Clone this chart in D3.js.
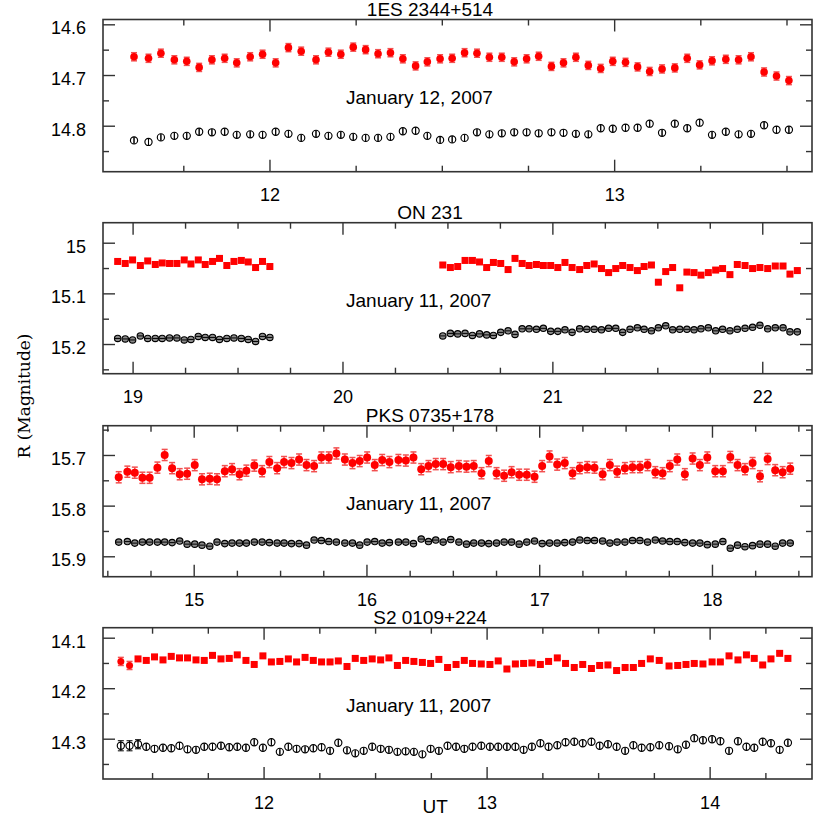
<!DOCTYPE html>
<html><head><meta charset="utf-8">
<script src="https://cdn.jsdelivr.net/npm/d3@7"></script>
<style>body{margin:0;background:#fff}svg{display:block}</style>
</head><body>
<svg id="chart" width="830" height="830"></svg>
<script>
// ---------------- data ----------------
const titles = ["1ES 2344+514", "ON 231", "PKS 0735+178", "S2 0109+224"];
const dates = ["January 12, 2007", "January 11, 2007", "January 11, 2007", "January 11, 2007"];
const xTickLabels = [[12, 13], [19, 20, 21, 22], [15, 16, 17, 18], [12, 13, 14]];
const yTickLabels = [[14.6, 14.7, 14.8], [15.0, 15.1, 15.2], [15.7, 15.8, 15.9], [14.1, 14.2, 14.3]];
const xLabel = "UT";
const yLabel = "R (Magnitude)";

// 1ES 2344+514
const t1 = [11.607,11.649,11.685,11.724,11.760,11.796,11.833,11.870,11.905,11.944,11.980,12.018,12.055,12.092,12.135,12.171,12.207,12.243,12.279,12.315,12.351,12.387,12.424,12.458,12.495,12.530,12.566,12.602,12.638,12.674,12.710,12.746,12.781,12.818,12.853,12.889,12.925,12.961,12.996,13.033,13.068,13.103,13.139,13.176,13.212,13.248,13.284,13.324,13.361,13.397,13.435,13.471,13.507];
const red1 = [14.664,14.667,14.657,14.670,14.673,14.685,14.670,14.667,14.676,14.664,14.659,14.676,14.646,14.653,14.670,14.655,14.659,14.645,14.650,14.658,14.656,14.668,14.682,14.674,14.668,14.667,14.656,14.657,14.665,14.665,14.674,14.668,14.663,14.683,14.676,14.665,14.681,14.687,14.673,14.675,14.684,14.693,14.688,14.686,14.667,14.680,14.672,14.669,14.670,14.664,14.694,14.702,14.711];
const blk1 = [14.829,14.832,14.823,14.820,14.820,14.812,14.813,14.812,14.818,14.817,14.818,14.812,14.816,14.824,14.816,14.820,14.818,14.822,14.824,14.824,14.822,14.811,14.810,14.820,14.828,14.827,14.824,14.813,14.817,14.815,14.813,14.813,14.815,14.813,14.814,14.816,14.817,14.805,14.806,14.804,14.804,14.796,14.814,14.796,14.805,14.794,14.818,14.812,14.817,14.816,14.799,14.808,14.808];

// ON 231
const t2 = [18.929,18.965,19.000,19.037,19.072,19.108,19.141,19.176,19.211,19.246,19.278,19.313,19.346,19.381,19.414,19.449,19.483,19.518,19.551,19.586,19.619,19.654,
  20.478,20.514,20.549,20.584,20.619,20.653,20.687,20.719,20.754,20.789,20.822,20.856,20.889,20.924,20.957,20.992,21.026,21.060,21.094,21.130,21.164,21.199,21.234,21.268,21.302,21.335,21.370,21.405,21.437,21.472,21.505,21.540,21.573,21.607,21.641,21.675,21.708,21.743,21.778,21.811,21.846,21.881,21.918,21.954,21.989,22.026,22.062,22.099,22.132,22.167];
const red2 = [15.037,15.041,15.034,15.045,15.036,15.043,15.040,15.041,15.041,15.034,15.042,15.034,15.043,15.037,15.031,15.045,15.037,15.035,15.038,15.049,15.037,15.047,
  15.044,15.049,15.047,15.035,15.035,15.038,15.049,15.039,15.041,15.053,15.031,15.041,15.045,15.043,15.045,15.045,15.049,15.039,15.049,15.053,15.045,15.042,15.051,15.059,15.051,15.045,15.049,15.055,15.047,15.044,15.078,15.057,15.049,15.089,15.058,15.059,15.064,15.059,15.054,15.051,15.063,15.043,15.045,15.051,15.049,15.051,15.046,15.046,15.062,15.055];
const blk2 = [15.189,15.190,15.192,15.184,15.189,15.189,15.189,15.188,15.188,15.192,15.191,15.185,15.187,15.187,15.191,15.189,15.188,15.189,15.191,15.195,15.185,15.187,
  15.184,15.179,15.180,15.179,15.183,15.180,15.182,15.183,15.177,15.174,15.181,15.170,15.170,15.171,15.169,15.175,15.175,15.172,15.177,15.170,15.171,15.171,15.172,15.169,15.169,15.177,15.171,15.168,15.171,15.174,15.168,15.164,15.172,15.171,15.171,15.172,15.170,15.168,15.174,15.171,15.174,15.171,15.169,15.167,15.163,15.170,15.168,15.168,15.176,15.176];

// PKS 0735+178
const t3 = [14.566,14.616,14.659,14.703,14.745,14.790,14.832,14.875,14.919,14.962,15.006,15.048,15.093,15.135,15.180,15.222,15.265,15.305,15.351,15.396,15.438,15.483,15.523,15.566,15.610,15.653,15.697,15.739,15.782,15.826,15.875,15.919,15.961,16.004,16.048,16.091,16.133,16.185,16.228,16.272,16.317,16.359,16.401,16.444,16.488,16.535,16.579,16.621,16.666,16.708,16.753,16.797,16.840,16.884,16.928,16.973,17.017,17.060,17.104,17.148,17.193,17.235,17.278,17.320,17.367,17.409,17.451,17.496,17.540,17.583,17.627,17.672,17.714,17.756,17.799,17.843,17.888,17.930,17.973,18.019,18.063,18.106,18.148,18.191,18.235,18.278,18.322,18.366,18.409,18.453];
const red3 = [15.744,15.733,15.735,15.745,15.745,15.725,15.700,15.726,15.738,15.737,15.720,15.748,15.747,15.748,15.732,15.728,15.738,15.731,15.721,15.732,15.714,15.726,15.714,15.716,15.709,15.720,15.722,15.705,15.705,15.697,15.709,15.716,15.712,15.705,15.720,15.710,15.714,15.710,15.711,15.705,15.728,15.722,15.718,15.718,15.724,15.722,15.723,15.722,15.736,15.712,15.736,15.741,15.734,15.739,15.739,15.743,15.722,15.703,15.719,15.716,15.736,15.726,15.724,15.725,15.738,15.720,15.733,15.726,15.724,15.724,15.720,15.734,15.736,15.722,15.709,15.738,15.707,15.720,15.705,15.732,15.732,15.704,15.720,15.728,15.716,15.742,15.708,15.730,15.734,15.727];
const blk3 = [15.872,15.871,15.874,15.872,15.872,15.872,15.872,15.873,15.870,15.876,15.876,15.878,15.880,15.872,15.875,15.874,15.874,15.874,15.872,15.872,15.873,15.874,15.874,15.875,15.875,15.878,15.868,15.869,15.871,15.872,15.874,15.874,15.878,15.872,15.871,15.874,15.873,15.872,15.872,15.875,15.866,15.871,15.868,15.872,15.867,15.872,15.876,15.874,15.874,15.875,15.874,15.872,15.872,15.876,15.872,15.870,15.875,15.874,15.874,15.873,15.872,15.868,15.869,15.869,15.870,15.874,15.872,15.872,15.869,15.869,15.872,15.868,15.870,15.871,15.871,15.873,15.874,15.874,15.877,15.876,15.871,15.884,15.878,15.881,15.879,15.876,15.876,15.880,15.874,15.874];

// S2 0109+224
const t4 = [11.360,11.399,11.437,11.474,11.511,11.549,11.586,11.623,11.659,11.697,11.734,11.771,11.809,11.846,11.882,11.921,11.958,11.997,12.035,12.073,12.111,12.148,12.186,12.223,12.260,12.298,12.335,12.374,12.411,12.449,12.487,12.525,12.562,12.600,12.637,12.674,12.712,12.749,12.786,12.825,12.863,12.900,12.937,12.976,13.015,13.052,13.091,13.129,13.166,13.203,13.241,13.278,13.317,13.354,13.393,13.431,13.470,13.507,13.544,13.583,13.621,13.658,13.695,13.734,13.774,13.818,13.857,13.894,13.931,13.970,14.011,14.048,14.087,14.127,14.165,14.200,14.238,14.275,14.314,14.351];
const red4 = [14.147,14.155,14.142,14.145,14.138,14.144,14.137,14.140,14.140,14.144,14.145,14.135,14.142,14.141,14.134,14.145,14.153,14.136,14.148,14.147,14.142,14.148,14.139,14.145,14.148,14.148,14.146,14.157,14.141,14.145,14.142,14.144,14.140,14.155,14.145,14.147,14.149,14.151,14.143,14.159,14.153,14.145,14.151,14.152,14.153,14.146,14.162,14.152,14.151,14.150,14.153,14.147,14.140,14.151,14.159,14.153,14.161,14.155,14.154,14.165,14.159,14.159,14.151,14.142,14.145,14.156,14.155,14.153,14.151,14.152,14.148,14.148,14.136,14.144,14.134,14.141,14.154,14.142,14.131,14.141];
const blk4 = [14.314,14.314,14.311,14.316,14.320,14.318,14.319,14.314,14.321,14.322,14.316,14.316,14.314,14.317,14.316,14.318,14.307,14.318,14.307,14.326,14.316,14.320,14.321,14.319,14.317,14.324,14.308,14.323,14.329,14.324,14.316,14.320,14.322,14.326,14.325,14.326,14.331,14.320,14.324,14.314,14.316,14.320,14.316,14.314,14.316,14.316,14.316,14.316,14.322,14.316,14.309,14.316,14.313,14.307,14.306,14.309,14.306,14.314,14.311,14.316,14.324,14.313,14.318,14.317,14.313,14.315,14.321,14.312,14.299,14.303,14.301,14.305,14.324,14.305,14.316,14.318,14.306,14.309,14.322,14.308];

// typical error bars (mag) for each panel
const redErr = [0.008, 0.004, 0.011, 0.003];
const blkErr = [0.006, 0.003, 0.003, 0.005];
const s2RedErrFirst = [0.008, 0.008];        // larger errors of the first S2 points
const s2BlkErrFirst = [0.010, 0.010, 0.009];

// ---------------- layout ----------------
const panels = [
  {t: t1, red: red1, blk: blk1, top: 19.5, bottom: 171.7, xd: [11.517, 13.574], yd: [14.5905, 14.8907], redShape: "circle", blkFill: "none", rr: 3.8, br: 3.6},
  {t: t2, red: red2, blk: blk2, top: 222.7, bottom: 373.7, xd: [18.859, 22.237], yd: [14.9605, 15.2586], redShape: "square", blkFill: "#8a8a8a", rr: 3.5, br: 3.2},
  {t: t3, red: red3, blk: blk3, top: 425.7, bottom: 576.7, xd: [14.475, 18.579], yd: [15.6422, 15.9403], redShape: "circle", blkFill: "#8a8a8a", rr: 4, br: 3.2},
  {t: t4, red: red4, blk: blk4, top: 627.7, bottom: 779, xd: [11.280, 14.459], yd: [14.0802, 14.3798], redShape: "square", blkFill: "none", rr: 3.5, br: 3.6}
];
const X0 = 103, X1 = 812;
const FRAME = "#333";
const svg = d3.select("#chart");

function range(a, b, step) {
  const out = [];
  for (let v = Math.ceil(a / step - 1e-9) * step; v <= b + 1e-9; v += step) out.push(+v.toFixed(4));
  return out;
}
function isMajor(v, step) { return Math.abs(v / step - Math.round(v / step)) < 1e-6; }

panels.forEach((p, pi) => {
  const g = svg.append("g");
  const x = d3.scaleLinear().domain(p.xd).range([X0, X1]);
  const y = d3.scaleLinear().domain(p.yd).range([p.top, p.bottom]);
  const H = p.bottom - p.top;

  const xMinor = range(p.xd[0], p.xd[1], 0.25).filter(v => !isMajor(v, 1));
  const yMinor = range(p.yd[0], p.yd[1], 0.05).filter(v => !isMajor(v, 0.1));
  const yMajor = yTickLabels[pi];
  const xMajor = xTickLabels[pi];
  const yfmt = v => String(+v.toFixed(1));

  function styleAxis(sel) {
    sel.select(".domain").remove();
    sel.selectAll(".tick line").attr("stroke", FRAME).attr("stroke-width", 1.4);
    sel.selectAll("text").attr("font-family", "Liberation Sans, Arial, sans-serif").attr("font-size", 18).attr("fill", "#000");
  }
  // bottom major (labeled)
  g.append("g").attr("transform", `translate(0,${p.bottom})`)
    .call(d3.axisBottom(x).tickValues(xMajor).tickFormat(d3.format("d")).tickSizeInner(-12).tickSizeOuter(0).tickPadding(17))
    .call(styleAxis);
  g.append("g").attr("transform", `translate(0,${p.bottom})`)
    .call(d3.axisBottom(x).tickValues(xMinor).tickFormat("").tickSizeInner(-6).tickSizeOuter(0))
    .call(styleAxis);
  // top mirrored
  g.append("g").attr("transform", `translate(0,${p.top})`)
    .call(d3.axisTop(x).tickValues(xMajor).tickFormat("").tickSizeInner(-12).tickSizeOuter(0))
    .call(styleAxis);
  g.append("g").attr("transform", `translate(0,${p.top})`)
    .call(d3.axisTop(x).tickValues(xMinor).tickFormat("").tickSizeInner(-6).tickSizeOuter(0))
    .call(styleAxis);
  // left
  const la = g.append("g").attr("transform", `translate(${X0},0)`)
    .call(d3.axisLeft(y).tickValues(yMajor).tickFormat(yfmt).tickSizeInner(-12).tickSizeOuter(0).tickPadding(17))
    .call(styleAxis);
  la.selectAll("text").attr("dy", "0.52em");
  g.append("g").attr("transform", `translate(${X0},0)`)
    .call(d3.axisLeft(y).tickValues(yMinor).tickFormat("").tickSizeInner(-6).tickSizeOuter(0))
    .call(styleAxis);
  // right
  g.append("g").attr("transform", `translate(${X1},0)`)
    .call(d3.axisRight(y).tickValues(yMajor).tickFormat("").tickSizeInner(-12).tickSizeOuter(0))
    .call(styleAxis);
  g.append("g").attr("transform", `translate(${X1},0)`)
    .call(d3.axisRight(y).tickValues(yMinor).tickFormat("").tickSizeInner(-6).tickSizeOuter(0))
    .call(styleAxis);

  // frame
  g.append("rect").attr("x", X0).attr("y", p.top).attr("width", X1 - X0).attr("height", H)
    .attr("fill", "none").attr("stroke", FRAME).attr("stroke-width", 1.6);

  // title & date
  g.append("text").attr("x", 430).attr("y", p.top - 4).attr("text-anchor", "middle")
    .attr("font-family", "Liberation Sans, Arial, sans-serif").attr("font-size", 19).text(titles[pi]);
  g.append("text").attr("x", 346).attr("y", p.top + 84.5)
    .attr("font-family", "Liberation Sans, Arial, sans-serif").attr("font-size", 19).text(dates[pi]);

  // data
  const redE = i => (pi === 3 && i < s2RedErrFirst.length) ? s2RedErrFirst[i] : redErr[pi];
  const blkE = i => (pi === 3 && i < s2BlkErrFirst.length) ? s2BlkErrFirst[i] : blkErr[pi];
  const redPts = p.t.map((t, i) => ({t, m: p.red[i], e: redE(i), i}));
  const blkPts = p.t.map((t, i) => ({t, m: p.blk[i], e: blkE(i), i}));

  function errbars(sel, pts, color, w, capFn) {
    const eg = sel.append("g").attr("stroke", color).attr("stroke-width", w);
    eg.selectAll("line.v").data(pts).join("line").attr("class", "v")
      .attr("x1", d => x(d.t)).attr("x2", d => x(d.t))
      .attr("y1", d => y(d.m - d.e)).attr("y2", d => y(d.m + d.e));
    eg.selectAll("line.c1").data(pts).join("line").attr("class", "c1")
      .attr("x1", d => x(d.t) - capFn(d)).attr("x2", d => x(d.t) + capFn(d))
      .attr("y1", d => y(d.m - d.e)).attr("y2", d => y(d.m - d.e));
    eg.selectAll("line.c2").data(pts).join("line").attr("class", "c2")
      .attr("x1", d => x(d.t) - capFn(d)).attr("x2", d => x(d.t) + capFn(d))
      .attr("y1", d => y(d.m + d.e)).attr("y2", d => y(d.m + d.e));
  }

  // black comparison star
  const blkCap = d => p.blkFill !== "none" ? 2.8 : (Math.abs(y(d.m + d.e) - y(d.m)) > p.br + 0.5 ? 3 : 0);
  errbars(g, blkPts, "#000", 1, blkCap);
  g.append("g").selectAll("circle").data(blkPts).join("circle")
    .attr("cx", d => x(d.t)).attr("cy", d => y(d.m)).attr("r", p.br)
    .attr("fill", p.blkFill).attr("stroke", "#000").attr("stroke-width", 1.15);
  if (p.blkFill === "none") {
    g.append("g").attr("stroke", "#000").attr("stroke-width", 1)
      .selectAll("line").data(blkPts).join("line")
      .attr("x1", d => x(d.t)).attr("x2", d => x(d.t))
      .attr("y1", d => y(d.m) - p.br).attr("y2", d => y(d.m) + p.br);
  } else {
    g.append("g").attr("stroke", "#000").attr("stroke-width", 1)
      .selectAll("line").data(blkPts).join("line")
      .attr("x1", d => x(d.t) - p.br + 0.5).attr("x2", d => x(d.t) + p.br - 0.5)
      .attr("y1", d => y(d.m)).attr("y2", d => y(d.m));
  }

  // red blazar
  errbars(g, redPts, "#f25050", 1.5, () => 3);
  const rg = g.append("g").attr("fill", "#ff0000");
  redPts.forEach(d => {
    const shape = (pi === 3 && d.i < s2RedErrFirst.length) ? "circle" : p.redShape;
    if (shape === "circle") {
      rg.append("circle").attr("cx", x(d.t)).attr("cy", y(d.m)).attr("r", p.rr);
    } else {
      rg.append("rect").attr("x", x(d.t) - p.rr).attr("y", y(d.m) - p.rr)
        .attr("width", 2 * p.rr).attr("height", 2 * p.rr);
    }
  });
});

// axis titles
svg.append("text").attr("transform", "translate(30,396) rotate(-90)").attr("text-anchor", "middle")
  .attr("font-family", "DejaVu Serif, serif").attr("font-size", 17).text(yLabel);
svg.append("text").attr("x", 422.5).attr("y", 813)
  .attr("font-family", "Liberation Sans, Arial, sans-serif").attr("font-size", 19).text(xLabel);
</script>
</body></html>
